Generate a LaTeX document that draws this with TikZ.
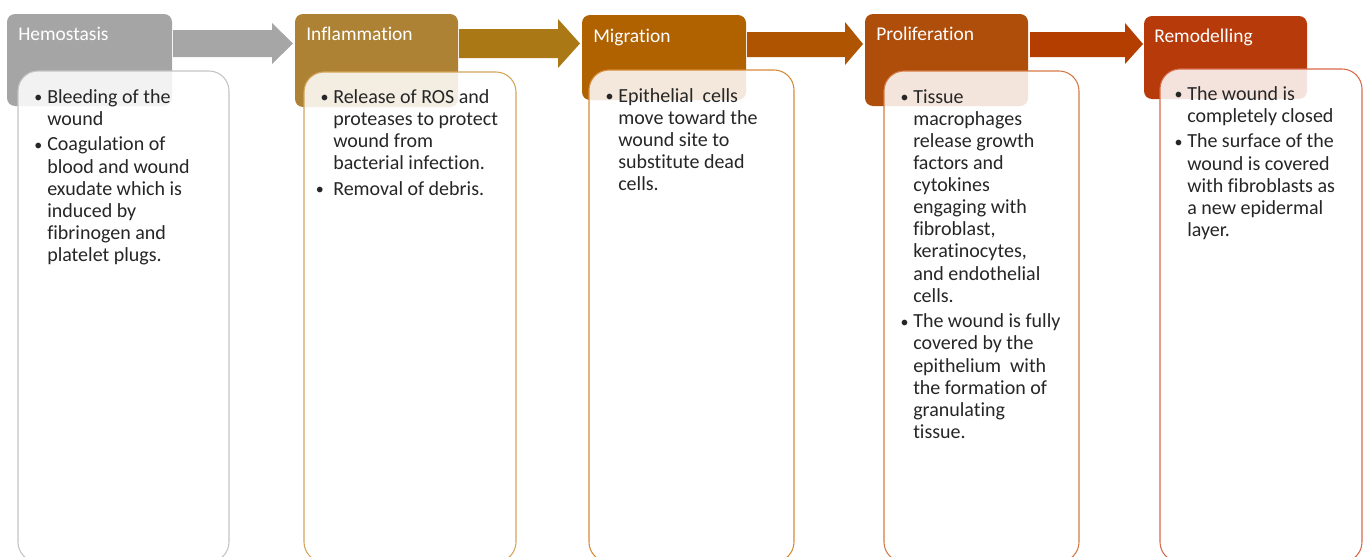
\documentclass[tikz,border=0pt]{standalone}
\usepackage{fontspec}
\setmainfont[Ligatures=NoCommon]{Carlito}
\definecolor{hA}{HTML}{A5A5A5}
\definecolor{hB}{HTML}{AE8234}
\definecolor{hC}{HTML}{B06200}
\definecolor{hD}{HTML}{AF4D0A}
\definecolor{hE}{HTML}{B63A0A}
\definecolor{aA}{HTML}{A6A6A6}
\definecolor{aB}{HTML}{AB7816}
\definecolor{aC}{HTML}{AF5400}
\definecolor{aD}{HTML}{B33E00}
\definecolor{bA}{HTML}{C4C4C4}
\definecolor{bB}{HTML}{D4A45A}
\definecolor{bC}{HTML}{D88A3A}
\definecolor{bD}{HTML}{D57A45}
\definecolor{bE}{HTML}{D86A4C}
\definecolor{txt}{HTML}{262626}
\newcommand{\bl}{\llap{\raisebox{0.3pt}{\scalebox{0.8}{\textbullet}}\hspace{3.6pt}}}
\tikzset{
  x=0.75pt, y=-0.75pt,
  head/.style={rounded corners=6pt, inner sep=0pt},
  title/.style={anchor=base west, text=white, font=\fontsize{14.6}{16}\selectfont, inner sep=0pt},
  body/.style={rounded corners=15pt, fill=white, fill opacity=0.86, line width=0.8pt},
  btext/.style={anchor=north west, align=left, text=txt, inner sep=0pt,
     font=\fontsize{15}{16.6}\selectfont},
}
\begin{document}
\begin{tikzpicture}
\useasboundingbox (0,0) rectangle (1365,557);
\clip (0,0) rectangle (1365,557);
% header boxes
\fill[hA, head] (7,14) rectangle (172,106);
\fill[hB, head] (295,14) rectangle (458,107);
\fill[hC, head] (582,15) rectangle (746,100);
\fill[hD, head] (865,14) rectangle (1028,106);
\fill[hE, head] (1144,16) rectangle (1307,99);
% titles
\node[title] (t1) at (18,40) {Hemostasis};
\node[title] (t2) at (306,40) {Inflammation};
\node[title] (t3) at (593,42) {Migration};
\node[title] (t4) at (876,40) {Proliferation};
\node[title] (t5) at (1154,42) {Remodelling};
% arrows between headers
\fill[aA] (173,30) -- (272,30) -- (272,23) -- (293,43.5) -- (272,64) -- (272,57) -- (173,57) -- cycle;
\fill[aB] (459,29) -- (558,29) -- (558,19) -- (580,43.5) -- (558,68) -- (558,58) -- (459,58) -- cycle;
\fill[aC] (747,32) -- (845,32) -- (845,22) -- (863,44) -- (845,65) -- (845,57) -- (747,57) -- cycle;
\fill[aD] (1030,32) -- (1125,32) -- (1125,23) -- (1143,44) -- (1125,64) -- (1125,57) -- (1030,57) -- cycle;
% content boxes
\draw[body, draw=bA] (18,71) rectangle (229,562);
\draw[body, draw=bB] (304,72) rectangle (516,562);
\draw[body, draw=bC] (589,70) rectangle (794,562);
\draw[body, draw=bD] (884,71) rectangle (1079,562);
\draw[body, draw=bE] (1160,69) rectangle (1362,562);
% body texts
\node[btext] (c1) at (47,89) {\bl Bleeding of the\\wound\\[2.6pt]
\bl Coagulation of\\blood and wound\\exudate which is\\induced by\\fibrinogen and\\platelet plugs.};
\node[btext] (c2) at (333,89) {\bl Release of ROS and\\proteases to protect\\wound from\\bacterial infection.\\[2.6pt]
\llap{\raisebox{0.3pt}{\scalebox{0.8}{\textbullet}}\hspace{7pt}}Removal of debris.};
\node[btext] (c3) at (618,88) {\bl Epithelial\ \ cells\\move toward the\\wound site to\\substitute dead\\cells.};
\node[btext] (c4) at (913,89) {\bl Tissue\\macrophages\\release growth\\factors and\\cytokines\\engaging with\\fibroblast,\\keratinocytes,\\and endothelial\\cells.\\[2.6pt]
\bl The wound is fully\\covered by the\\epithelium\ \ with\\the formation of\\granulating\\tissue.};
\node[btext] (c5) at (1187,86) {\bl The wound is\\completely closed\\[2.6pt]
\bl The surface of the\\wound is covered\\with fibroblasts as\\a new epidermal\\layer.};
\end{tikzpicture}
\end{document}
